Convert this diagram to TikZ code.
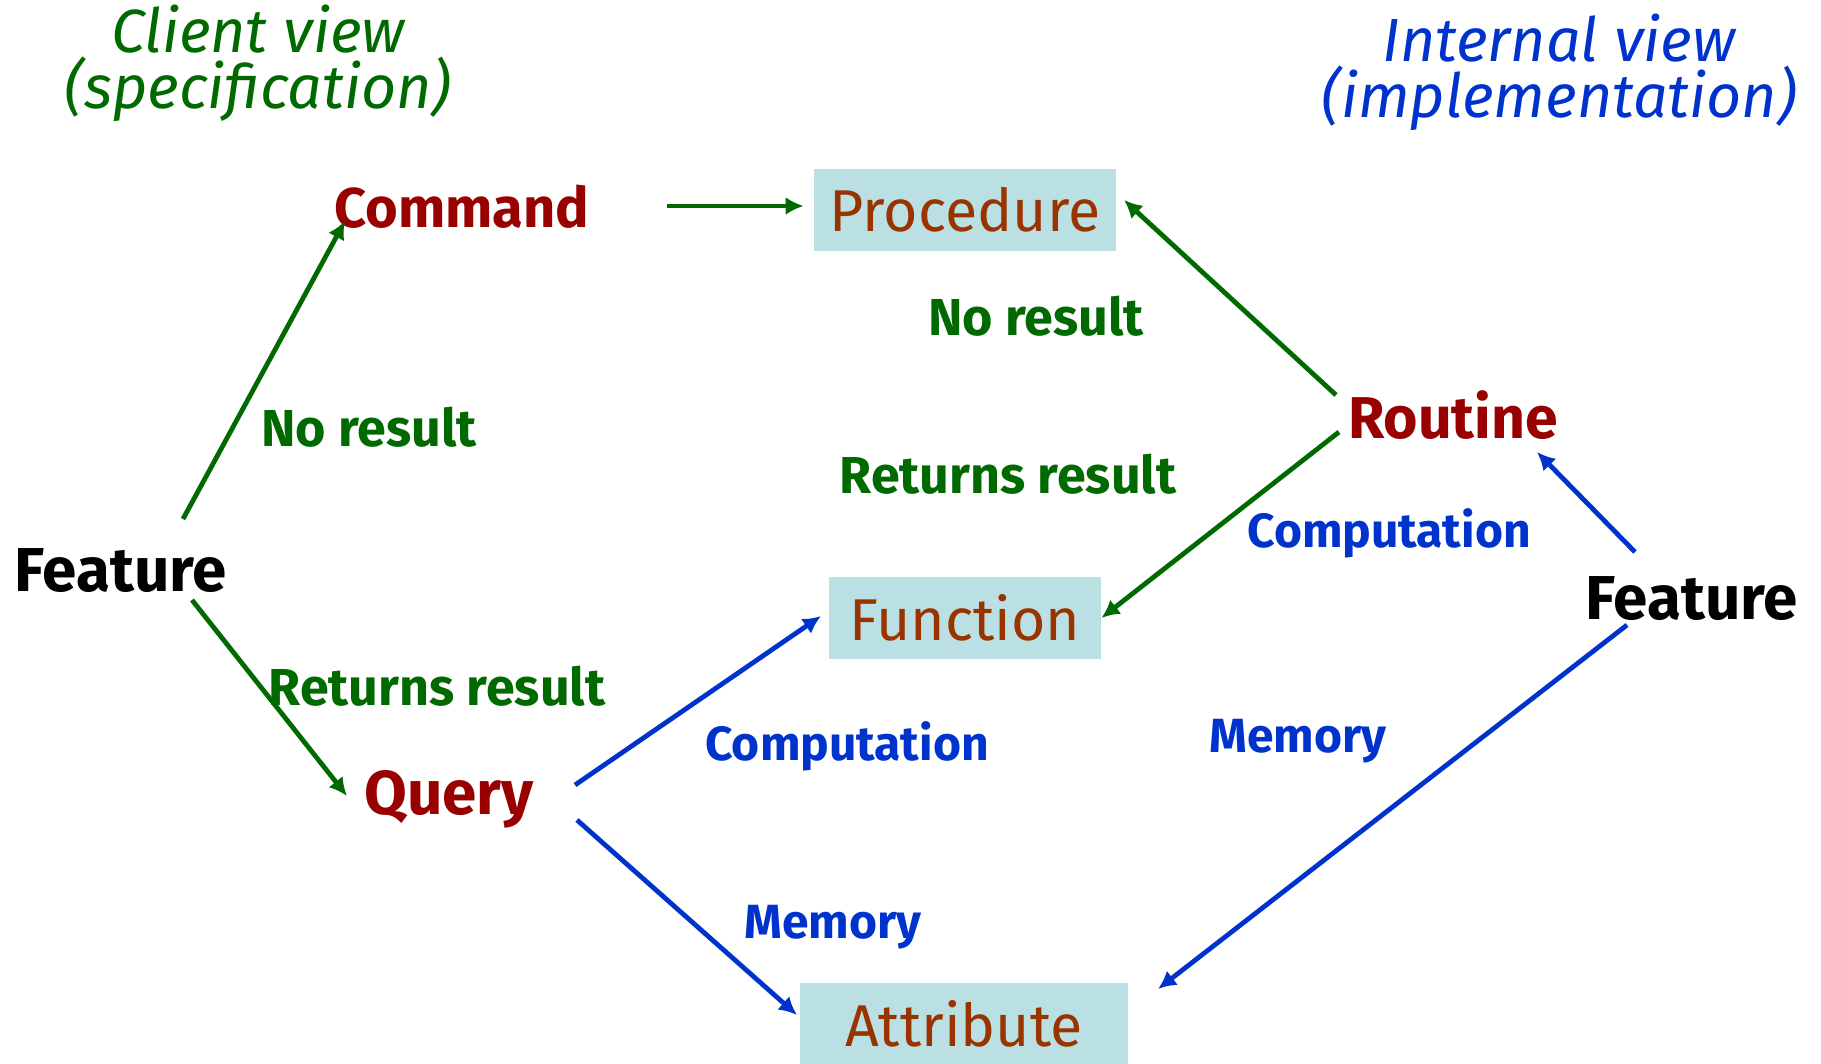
\documentclass[tikz,border=0pt]{standalone}
\usepackage{fontspec}
\setmainfont{Fira Sans}
\usetikzlibrary{arrows.meta,calc}
\definecolor{specgreen}{RGB}{0,105,0}
\definecolor{implblue}{RGB}{0,51,204}
\definecolor{kindred}{RGB}{153,0,0}
\definecolor{implbrown}{RGB}{153,51,0}
\definecolor{implfill}{RGB}{187,224,227}

\begin{document}
\begin{tikzpicture}[x=0.5pt, y=-0.5pt]
\tikzstyle{main}=[inner sep=0pt, font=\fontsize{28}{30}\selectfont\bfseries]
\tikzstyle{kind}=[main, text=kindred]
\tikzstyle{feat}=[main, text=black, font=\fontsize{31}{34}\selectfont\bfseries]
\tikzstyle{impl}=[rectangle, fill=implfill, text=implbrown, inner sep=0pt, minimum height=41pt, font=\fontsize{29.5}{32}\selectfont]
\tikzstyle{lbl}=[inner sep=0pt, font=\fontsize{24}{28}\selectfont\bfseries]
\tikzstyle{glbl}=[lbl, text=specgreen, font=\fontsize{26}{28}\selectfont\bfseries]
\tikzstyle{blbl}=[lbl, text=implblue]
\tikzstyle{head}=[align=center, inner sep=0pt, font=\fontsize{30.5}{28}\selectfont\itshape]
\tikzstyle{connect}=[-{Latex[length=9pt,width=9pt]}, line width=2.4pt]

  \useasboundingbox (0,0) rectangle (1821,1064);

  \node[head, text=specgreen] (client)   at (258,63)  {Client view\\(specification)};
  \node[head, text=implblue]  (internal) at (1559,72) {Internal view\\(implementation)};

  \node[feat] (featL)   at (121,571)  {Feature};
  \node[kind] (command) at (462,207)  {Command};
  \node[kind, font=\fontsize{31}{34}\selectfont\bfseries] (query) at (449,799) {Query};

  \node[impl, minimum width=151pt] (procedure) at (965,210)  {Procedure};
  \node[impl, minimum width=136pt] (function)  at (965,618)  {Function};
  \node[impl, minimum width=164pt] (attribute) at (964,1024) {Attribute};

  \node[kind, font=\fontsize{29.5}{32}\selectfont\bfseries] (routine) at (1453,415) {Routine};
  \node[feat] (featR)   at (1692,599) {Feature};

  \node[glbl] (noresL)  at (369,427)  {No result};
  \node[glbl] (retresL) at (437,686)  {Returns result};
  \node[glbl] (noresR)  at (1036,316) {No result};
  \node[glbl] (retresR) at (1008,474) {Returns result};
  \node[blbl] (compR)   at (1389,533) {Computation};
  \node[blbl] (compL)   at (847,746)  {Computation};
  \node[blbl] (memR)    at (1298,741) {Memory};
  \node[blbl] (memL)    at (833,927)  {Memory};

  % client side
  \path ([shift={(62,-52)}]featL.center) edge [connect, specgreen] ([shift={(-117,14)}]command.center);
  \path ([shift={(71,29)}]featL.center)  edge [connect, specgreen] ([shift={(-102,-3)}]query.center);
  \path ([shift={(205,-1)}]command.center) edge [connect, specgreen] ([shift={(-10,-4)}]procedure.west);

  % internal side
  \path ([shift={(-117,-20)}]routine.center) edge [connect, specgreen] ([shift={(159,-10)}]procedure.center);
  \path ([shift={(-114,17)}]routine.center)  edge [connect, specgreen] (function.east);
  \path ([shift={(-57,-47)}]featR.center)    edge [connect, implblue] ([shift={(84,37)}]routine.center);
  \path ([shift={(-65,26)}]featR.center)     edge [connect, implblue] ([shift={(194,-35)}]attribute.center);
  \path ([shift={(126,-14)}]query.center)    edge [connect, implblue] ([shift={(-144,-2)}]function.center);
  \path ([shift={(128,21)}]query.center)     edge [connect, implblue] ([shift={(-167,-9)}]attribute.center);

\end{tikzpicture}
\end{document}
